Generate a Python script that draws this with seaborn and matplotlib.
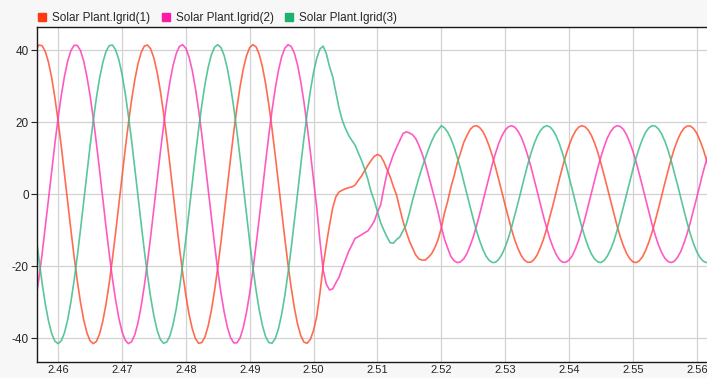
import matplotlib
matplotlib.use("Agg")
from matplotlib import pyplot as plt
from matplotlib.lines import Line2D
import pandas as pd
import seaborn as sns
import numpy as np

# time axis, 0.5 ms steps from 2.456 s to 2.562 s
t_start = 2.456
t_step = 0.0005

series_names = ["Solar Plant.Igrid(1)", "Solar Plant.Igrid(2)", "Solar Plant.Igrid(3)"]

igrid1 = [
    37.3, 40.1, 41.4, 41.2, 39.6, 36.6, 32.3, 26.8, 20.4, 13.3,
    5.7, -2.1, -9.8, -17.2, -24.0, -29.9, -34.8, -38.4, -40.7, -41.5,
    -40.9, -38.8, -35.3, -30.6, -24.8, -18.1, -10.8, -3.1, 4.7, 12.3,
    19.5, 26.0, 31.6, 36.1, 39.3, 41.1, 41.4, 40.3, 37.8, 33.9,
    28.8, 22.7, 15.8, 8.3, 0.5, -7.3, -14.8, -21.8, -28.0, -33.3,
    -37.3, -40.1, -41.4, -41.2, -39.6, -36.6, -32.3, -26.8, -20.4, -13.3,
    -5.7, 2.1, 9.8, 17.2, 24.0, 29.9, 34.8, 38.4, 40.7, 41.5,
    40.9, 38.8, 35.3, 30.6, 24.8, 18.1, 10.8, 3.1, -4.7, -12.3,
    -19.5, -26.0, -31.6, -36.1, -39.3, -41.1, -41.4, -40.3, -37.8, -33.9,
    -27.5, -20.0, -14.0, -8.6, -3.8, -0.7, 0.6, 1.1, 1.5, 1.8,
    2.0, 2.5, 3.8, 5.0, 6.5, 8.0, 9.3, 10.5, 11.0, 10.6,
    9.0, 6.9, 4.8, 2.1, -0.3, -4.0, -7.5, -10.4, -13.0, -15.0,
    -16.9, -18.0, -18.3, -18.3, -17.5, -16.5, -14.8, -12.6, -9.4, -5.2,
    -2.0, 1.9, 5.0, 8.7, 11.4, 14.3, 16.2, 17.9, 18.8, 19.0,
    18.5, 17.4, 15.6, 13.3, 10.6, 7.4, 4.0, 0.5, -3.1, -6.5,
    -9.8, -12.7, -15.1, -17.0, -18.3, -18.9, -18.9, -18.2, -16.9, -14.9,
    -12.5, -9.6, -6.3, -2.9, 0.7, 4.3, 7.7, 10.8, 13.5, 15.8,
    17.5, 18.6, 19.0, 18.7, 17.8, 16.3, 14.2, 11.6, 8.5, 5.2,
    1.7, -1.9, -5.4, -8.7, -11.7, -14.3, -16.4, -17.9, -18.8, -19.0,
    -18.5, -17.4, -15.6, -13.3, -10.6, -7.4, -4.0, -0.5, 3.1, 6.5,
    9.8, 12.7, 15.1, 17.0, 18.3, 18.9, 18.9, 18.2, 16.9, 14.9,
    12.5, 9.6, 6.3,
]

igrid2 = [
    -34.4, -29.4, -23.4, -16.6, -9.1, -1.4, 6.4, 14.0, 21.1, 27.4,
    32.7, 36.9, 39.8, 41.3, 41.3, 39.9, 37.0, 32.8, 27.5, 21.2,
    14.1, 6.6, -1.2, -9.0, -16.4, -23.3, -29.3, -34.3, -38.1, -40.5,
    -41.5, -41.0, -39.1, -35.8, -31.2, -25.5, -18.9, -11.7, -4.0, 3.8,
    11.5, 18.8, 25.4, 31.1, 35.7, 39.0, 41.0, 41.5, 40.5, 38.1,
    34.4, 29.4, 23.4, 16.6, 9.1, 1.4, -6.4, -14.0, -21.1, -27.4,
    -32.7, -36.9, -39.8, -41.3, -41.3, -39.9, -37.0, -32.8, -27.5, -21.2,
    -14.1, -6.6, 1.2, 9.0, 16.4, 23.3, 29.3, 34.3, 38.1, 40.5,
    41.5, 41.0, 39.1, 35.8, 31.2, 25.5, 18.9, 11.7, 4.0, -3.8,
    -13.0, -21.0, -25.0, -26.6, -26.3, -24.6, -23.0, -20.5, -18.2, -15.9,
    -14.1, -12.3, -11.8, -11.3, -10.7, -10.2, -9.0, -7.5, -5.0, -3.0,
    1.6, 5.8, 8.4, 11.0, 13.0, 14.9, 16.8, 17.3, 17.0, 16.5,
    15.4, 13.5, 11.2, 8.5, 5.2, 2.0, -1.5, -5.0, -9.0, -12.5,
    -15.0, -17.3, -18.5, -19.0, -18.8, -18.0, -16.5, -14.4, -11.9, -8.9,
    -5.6, -2.1, 1.5, 5.0, 8.4, 11.4, 14.1, 16.2, 17.8, 18.7,
    19.0, 18.6, 17.5, 15.9, 13.6, 10.9, 7.8, 4.4, 0.9, -2.7,
    -6.2, -9.4, -12.4, -14.8, -16.8, -18.2, -18.9, -18.9, -18.3, -17.1,
    -15.2, -12.8, -9.9, -6.7, -3.2, 0.3, 3.9, 7.3, 10.4, 13.2,
    15.6, 17.3, 18.5, 19.0, 18.8, 18.0, 16.5, 14.4, 11.9, 8.9,
    5.6, 2.1, -1.5, -5.0, -8.4, -11.4, -14.1, -16.2, -17.8, -18.7,
    -19.0, -18.6, -17.5, -15.9, -13.6, -10.9, -7.8, -4.4, -0.9, 2.7,
    6.2, 9.4, 12.4,
]

igrid3 = [
    -3.0, -10.7, -18.0, -24.7, -30.5, -35.2, -38.7, -40.8, -41.5, -40.7,
    -38.5, -34.9, -30.0, -24.1, -17.4, -10.0, -2.3, 5.5, 13.2, 20.3,
    26.7, 32.2, 36.5, 39.6, 41.2, 41.4, 40.1, 37.4, 33.4, 28.2,
    21.9, 15.0, 7.4, -0.3, -8.1, -15.6, -22.5, -28.7, -33.8, -37.7,
    -40.3, -41.4, -41.1, -39.4, -36.2, -31.8, -26.2, -19.7, -12.5, -4.9,
    3.0, 10.7, 18.0, 24.7, 30.5, 35.2, 38.7, 40.8, 41.5, 40.7,
    38.5, 34.9, 30.0, 24.1, 17.4, 10.0, 2.3, -5.5, -13.2, -20.3,
    -26.7, -32.2, -36.5, -39.6, -41.2, -41.4, -40.1, -37.4, -33.4, -28.2,
    -21.9, -15.0, -7.4, 0.3, 8.1, 15.6, 22.5, 28.7, 33.8, 37.7,
    40.3, 41.1, 39.0, 35.4, 32.6, 28.2, 23.8, 20.5, 18.2, 16.3,
    14.9, 13.6, 11.5, 9.4, 7.0, 4.1, 0.7, -1.8, -4.8, -7.9,
    -10.0, -11.9, -13.5, -13.6, -12.6, -11.9, -10.2, -8.5, -5.3, -1.7,
    1.5, 4.6, 7.4, 10.0, 12.5, 14.7, 16.6, 17.8, 19.0, 18.4,
    17.2, 15.4, 13.1, 10.2, 7.1, 3.6, 0.1, -3.5, -6.9, -10.1,
    -12.9, -15.3, -17.2, -18.4, -19.0, -18.9, -18.1, -16.7, -14.7, -12.2,
    -9.2, -5.9, -2.5, 1.1, 4.6, 8.0, 11.1, 13.8, 16.0, 17.6,
    18.6, 19.0, 18.7, 17.7, 16.1, 13.9, 11.2, 8.2, 4.8, 1.3,
    -2.3, -5.8, -9.1, -12.0, -14.6, -16.6, -18.0, -18.8, -19.0, -18.4,
    -17.2, -15.4, -13.1, -10.2, -7.1, -3.6, -0.1, 3.5, 6.9, 10.1,
    12.9, 15.3, 17.2, 18.4, 19.0, 18.9, 18.1, 16.7, 14.7, 12.2,
    9.2, 5.9, 2.5, -1.1, -4.6, -8.0, -11.1, -13.8, -16.0, -17.6,
    -18.6, -19.0, -18.7,
]

x_ticks = [2.46, 2.47, 2.48, 2.49, 2.50, 2.51, 2.52, 2.53, 2.54, 2.55, 2.56]
y_ticks = [-40, -20, 0, 20, 40]

marker_colors = ["#FF3A10", "#FF1AA6", "#1FB06E"]
line_colors = ["#FF5233", "#FF3DB8", "#3DBD88"]

time = t_start + t_step * np.arange(len(igrid1))
df = pd.concat([
    pd.DataFrame({"time": time[:len(vals)], "value": vals, "signal": name})
    for name, vals in zip(series_names, [igrid1, igrid2, igrid3])
])

sns.set_style("whitegrid")
plt.rcParams["font.family"] = ["Liberation Sans", "DejaVu Sans"]
plt.rcParams["axes.unicode_minus"] = False

fig = plt.figure(figsize=(7.07, 3.78), dpi=100, facecolor="#F7F7F7")
ax = fig.add_axes([37 / 707, 16 / 378, 1 - 37 / 707, 335 / 378])
ax.set_facecolor("white")

sns.lineplot(data=df, x="time", y="value", hue="signal", palette=line_colors,
             estimator=None, sort=False, lw=1.2, alpha=0.85, ax=ax, legend=False)

ax.set_xlim(2.4567, 2.5616)
ax.set_ylim(-46.6, 46.4)
ax.set_xticks(x_ticks)
ax.set_xticklabels([f"{v:.2f}" for v in x_ticks])
ax.set_yticks(y_ticks)
ax.set_xlabel("")
ax.set_ylabel("")
ax.grid(True, color="#D2D2D2", lw=0.9)
ax.tick_params(axis="both", labelsize=8.5, colors="#262626", length=4, width=0.8,
               direction="out", pad=2)
ax.tick_params(axis="x", length=0, pad=2.5, labelsize=8)
ax.yaxis.set_ticks_position("left")

for side in ["left", "bottom", "top"]:
    ax.spines[side].set_color("#1A1A1A")
    ax.spines[side].set_linewidth(1.0)
ax.spines["right"].set_visible(False)

# legend above the axes, square markers in a single row
handles = [Line2D([], [], ls="", marker="s", markersize=6, color=c) for c in marker_colors]
fig.legend(handles, series_names, loc="upper left", bbox_to_anchor=(28 / 707, 0.99),
           ncol=3, frameon=False, fontsize=8.5, handletextpad=0.35,
           columnspacing=0.8, handlelength=1.0, borderaxespad=0.3)

fig.savefig("out.png", dpi=100, facecolor=fig.get_facecolor())
plt.close(fig)
